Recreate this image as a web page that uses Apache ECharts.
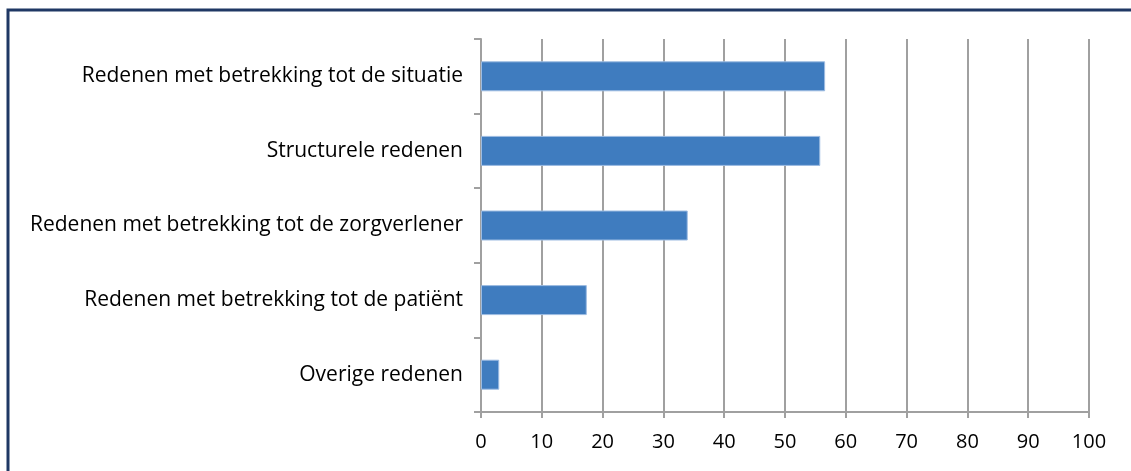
<!DOCTYPE html>
<html><head><meta charset="utf-8">
<script src="https://cdn.jsdelivr.net/npm/echarts@6/dist/echarts.min.js"></script>
<style>html,body{margin:0;padding:0;background:#fff}#c{width:1131px;height:471px}</style>
</head><body><div id="c"></div>
<script>
const categories = [
  "Redenen met betrekking tot de situatie",
  "Structurele redenen",
  "Redenen met betrekking tot de zorgverlener",
  "Redenen met betrekking tot de patiënt",
  "Overige redenen"
];
const values = [56.6, 55.8, 34.0, 17.4, 3.0];
const xTicks = [0, 10, 20, 30, 40, 50, 60, 70, 80, 90, 100];

const FONT = "Open Sans";
const chart = echarts.init(document.getElementById('c'), null, {renderer: 'canvas'});
chart.setOption({
  animation: false,
  grid: {left: 481, right: 42, top: 39, bottom: 59, containLabel: false},
  graphic: [
    {type: 'polyline', shape: {points: [[8, 471], [8, 10], [1131, 10]]},
     style: {stroke: '#1F3864', lineWidth: 3, fill: null}}
  ],
  xAxis: {
    type: 'value', min: xTicks[0], max: xTicks[xTicks.length - 1], interval: 10,
    axisLine: {show: true, lineStyle: {color: '#A0A0A0', width: 2}},
    axisTick: {show: true, length: 6, lineStyle: {color: '#A0A0A0', width: 2}},
    splitLine: {show: true, lineStyle: {color: '#A0A0A0', width: 2}},
    axisLabel: {color: '#000', fontSize: 20, fontFamily: FONT, margin: 20}
  },
  yAxis: {
    type: 'category', data: categories, inverse: true,
    axisLine: {show: true, lineStyle: {color: '#A0A0A0', width: 2}},
    axisTick: {show: true, length: 7, lineStyle: {color: '#A0A0A0', width: 2}},
    axisLabel: {color: '#000', fontSize: 21, fontFamily: FONT, margin: 18}
  },
  series: [{
    type: 'bar', data: values, barWidth: 30,
    itemStyle: {color: '#3F7CBF', borderColor: '#9DBCE2', borderWidth: 1}
  }]
});
</script></body></html>
